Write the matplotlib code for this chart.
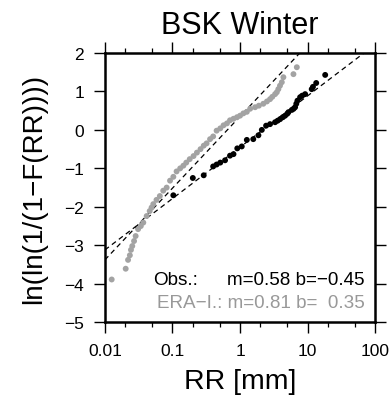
import matplotlib
matplotlib.use("Agg")
import matplotlib.pyplot as plt
import numpy as np
from matplotlib.ticker import LogLocator, NullFormatter

plt.rcParams['font.family'] = ['Liberation Sans', 'DejaVu Sans']

title = "BSK Winter"

# observations
obs_x = [0.103, 0.20, 0.29, 0.40, 0.45, 0.51, 0.60, 0.71, 0.80, 0.91, 1.06, 1.26,
         1.57, 1.87, 2.10, 2.43, 2.78, 3.30, 3.60, 3.92, 4.30, 4.64, 5.00, 5.20,
         5.84, 6.20, 6.53, 6.80, 7.07, 7.74, 8.30, 9.19, 11.5, 12.0, 13.4, 18.2]
obs_y = [-1.70, -1.25, -1.18, -0.95, -0.90, -0.85, -0.79, -0.67, -0.63, -0.48, -0.43, -0.26,
         -0.24, -0.14, 0.00, 0.11, 0.15, 0.20, 0.24, 0.28, 0.33, 0.37, 0.42, 0.46,
         0.52, 0.55, 0.59, 0.68, 0.76, 0.85, 0.89, 0.93, 1.06, 1.12, 1.22, 1.43]

# ERA-Interim
era_x = [0.0126, 0.0203, 0.0220, 0.0234, 0.0243, 0.0254, 0.0270, 0.0285, 0.0310, 0.0340,
         0.0370, 0.0415, 0.0460, 0.0490, 0.0520, 0.0580, 0.0650, 0.0730, 0.0820, 0.0920,
         0.1030, 0.1150, 0.1300, 0.1450, 0.1600, 0.1800, 0.2050, 0.2300, 0.2600, 0.2900,
         0.3200, 0.3600, 0.4000, 0.4500, 0.5100, 0.5700, 0.6400, 0.7100, 0.8000, 0.9000,
         1.0000, 1.1200, 1.2600, 1.4100, 1.6700, 1.9000, 2.2100, 2.5000, 2.7800, 3.0000,
         3.3000, 3.5000, 3.6900, 3.9000, 4.1500, 4.3800, 6.1700, 6.9200]
era_y = [-3.89, -3.61, -3.38, -3.26, -3.12, -3.02, -2.89, -2.76, -2.58, -2.50,
         -2.41, -2.24, -2.11, -2.02, -1.93, -1.82, -1.72, -1.58, -1.50, -1.32,
         -1.22, -1.08, -1.00, -0.93, -0.85, -0.76, -0.68, -0.59, -0.50, -0.41,
         -0.35, -0.24, -0.17, -0.02, 0.04, 0.12, 0.17, 0.25, 0.29, 0.33,
         0.37, 0.43, 0.47, 0.55, 0.59, 0.63, 0.68, 0.74, 0.80, 0.86,
         0.93, 0.98, 1.06, 1.15, 1.24, 1.37, 1.45, 1.63]

# fit parameters
obs_m, obs_b = 0.58, -0.45
era_m, era_b = 0.81, 0.35

fig = plt.figure(figsize=(3.90, 4.06), dpi=100)
ax = fig.add_axes([0.269, 0.204, 0.693, 0.663])

xx = np.logspace(-2, 2, 200)
ax.plot(xx, obs_m*np.log(xx)+obs_b, 'k--', lw=0.9, dashes=(4, 3))
ax.plot(xx, era_m*np.log(xx)+era_b, 'k--', lw=0.9, dashes=(4, 3))

ax.scatter(era_x, era_y, s=18, color='#a3a3a3', edgecolors='none', zorder=3)
ax.scatter(obs_x, obs_y, s=18, color='black', edgecolors='none', zorder=4)

ax.set_xscale('log')
ax.set_xlim(0.01, 100)
ax.set_ylim(-5, 2)
ax.set_xticks([0.01, 0.1, 1, 10, 100])
ax.set_xticklabels(['0.01', '0.1', '1', '10', '100'])
ax.xaxis.set_minor_locator(LogLocator(base=10, subs=(2, 5)))
ax.xaxis.set_minor_formatter(NullFormatter())
ax.set_yticks(range(-5, 3))
ax.set_yticklabels([str(v).replace('-', '\u2212') for v in range(-5, 3)])

for s in ax.spines.values():
    s.set_linewidth(1.8)
ax.tick_params(which='major', direction='out', length=8, width=1.0, labelsize=12.5,
               top=True, right=True, pad=7)
ax.tick_params(which='minor', direction='out', length=3.5, width=0.9, top=True, right=True)

ax.set_title(title, fontsize=22, pad=14.5)
ax.set_xlabel('RR [mm]', fontsize=20.5, labelpad=7)
ax.set_ylabel('ln(ln(1/(1\u2212F(RR))))', fontsize=20, labelpad=12)

fs = 13.6
ax.text(0.178, 0.14, 'Obs.:', transform=ax.transAxes, fontsize=fs, color='black')
ax.text(0.96, 0.14, 'm=0.58 b=\u22120.45', transform=ax.transAxes, fontsize=fs,
        color='black', ha='right')
ax.text(0.96, 0.058, 'ERA\u2212I.: m=0.81 b=  0.35', transform=ax.transAxes, fontsize=fs,
        color='#999999', ha='right')

fig.savefig('out.png', dpi=100)
